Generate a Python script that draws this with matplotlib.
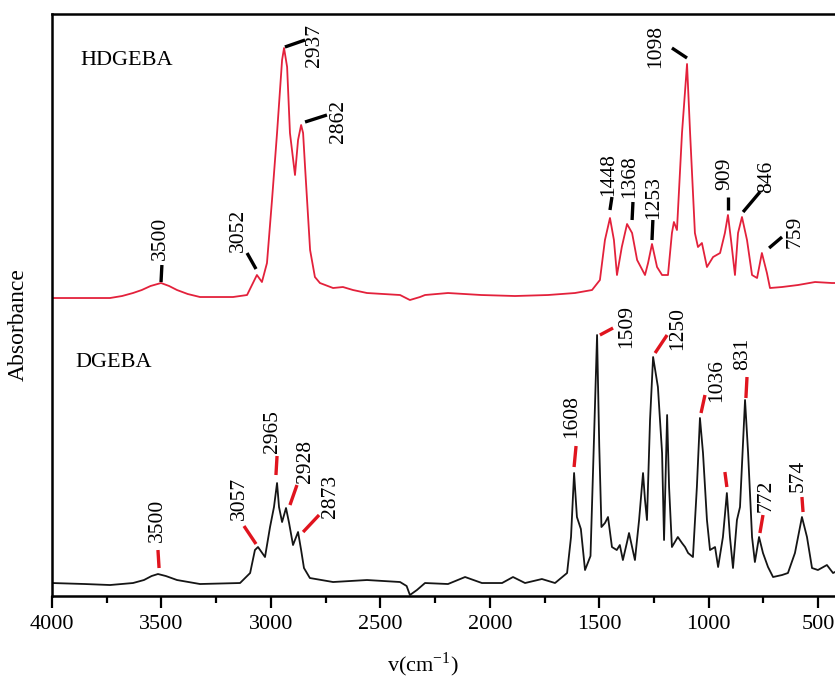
import numpy as np
import matplotlib
matplotlib.use("Agg")
import matplotlib.pyplot as plt
from matplotlib.ticker import MultipleLocator

plt.rcParams['font.family'] = ['Liberation Serif', 'DejaVu Serif']
plt.rcParams['mathtext.fontset'] = 'custom'
plt.rcParams['mathtext.rm'] = 'Liberation Serif'

# HDGEBA spectrum (wavenumber, absorbance in arbitrary units, offset upward)
hd_wn = [4000, 3850, 3735, 3680, 3630, 3590, 3550, 3502, 3465, 3429, 3380, 3324,
         3173, 3109, 3082, 3064,
         3041, 3018, 2995, 2972, 2949, 2940, 2926, 2913, 2890, 2876, 2862, 2853,
         2844, 2821, 2799, 2776, 2716, 2671, 2625, 2561, 2410, 2365, 2319, 2296,
         2191, 2039, 1885, 1734, 1611, 1533, 1497, 1474, 1451, 1433, 1419, 1397,
         1373, 1350, 1327, 1291, 1277, 1259, 1236, 1213, 1186, 1168, 1159, 1145,
         1122, 1099, 1085, 1063, 1049, 1031, 1008, 980, 948, 926, 912, 898, 880,
         866, 848, 825, 802, 779, 757, 734, 720, 665, 592, 514, 437, 423]
hd_abs = [298, 298, 298, 300, 303, 306, 310, 313, 310, 306, 302, 299,
          299, 301, 313, 321,
          314, 333, 396, 463, 536, 548, 529, 463, 421, 456, 471, 463,
          429, 346, 319, 313, 308, 309, 306, 303, 301, 296, 299, 301,
          303, 301, 300, 301, 303, 306, 316, 356, 378, 356, 321, 349,
          372, 363, 336, 321, 333, 352, 329, 321, 321, 363, 374, 366,
          463, 532, 463, 363, 349, 353, 329, 339, 343, 363, 381, 356, 321,
          363, 379, 356, 321, 318, 343, 323, 308, 309, 311, 314, 313, 313]

# DGEBA spectrum
dg_wn = [4000, 3850, 3735, 3630, 3580, 3545, 3516, 3480, 3429, 3324, 3141, 3095,
         3073, 3059,
         3027, 3004, 2986, 2972, 2963, 2949, 2931, 2917, 2899, 2876, 2862, 2849,
         2822, 2716, 2561, 2410, 2380, 2365, 2333, 2296, 2191, 2113, 2036, 1944,
         1894, 1839, 1762, 1702, 1647, 1629, 1615, 1602, 1584, 1565, 1540, 1525,
         1510, 1500, 1490, 1474, 1460, 1442, 1420, 1406, 1392, 1373, 1364, 1337,
         1318, 1300, 1291, 1282, 1268, 1254, 1232, 1213, 1204, 1190, 1181, 1168,
         1141, 1122, 1108, 1094, 1072, 1054, 1040, 1026, 1008, 994, 971, 957, 935,
         917, 903, 889, 871, 857, 834, 820, 802, 789, 770, 752, 729, 706, 665,
         638, 606, 574, 551, 528, 501, 460, 432, 423]
dg_abs = [13, 12, 11, 13, 16, 20, 22, 20, 16, 12, 13, 23,
          46, 49,
          39, 69, 89, 113, 89, 74, 88, 73, 51, 64, 46, 28,
          18, 14, 16, 14, 10, 1, 6, 13, 12, 19, 13, 13,
          19, 13, 17, 13, 23, 59, 123, 79, 67, 26, 40, 150,
          261, 150, 69, 73, 79, 49, 46, 51, 36, 54, 63, 36,
          76, 123, 96, 76, 176, 239, 209, 143, 56, 181, 109, 49,
          59, 53, 49, 43, 39, 109, 178, 143, 76, 46, 49, 29, 59,
          103, 59, 28, 76, 89, 196, 143, 59, 34, 59, 43, 29, 19, 21,
          23, 43, 79, 59, 28, 26, 31, 23, 24]

# peak labels: text, segment start, segment end, text anchor (bottom centre)
hd_peaks = [
    ("3500", (3502, 314), (3498, 331), (3507, 336)),
    ("3052", (3068, 327), (3109, 343), (3150, 344)),
    ("2937", (2936, 549), (2844, 556), (2799, 529)),
    ("2862", (2844, 474), (2744, 481), (2693, 453)),
    ("1448", (1451, 386), (1442, 399), (1455, 400)),
    ("1368", (1350, 376), (1346, 394), (1360, 398)),
    ("1253", (1259, 356), (1255, 376), (1250, 377)),
    ("1098", (1099, 538), (1168, 548), (1241, 528)),
    ("909", (912, 386), (912, 399), (926, 406)),
    ("846", (843, 384), (766, 404), (734, 403)),
    ("759", (724, 348), (665, 359), (606, 348)),
]
dg_peaks = [
    ("3500", (3511, 28), (3516, 46), (3520, 54)),
    ("3057", (3068, 52), (3123, 70), (3146, 76)),
    ("2965", (2977, 121), (2972, 140), (2995, 143)),
    ("2928", (2913, 91), (2881, 111), (2844, 113)),
    ("2873", (2853, 64), (2780, 81), (2730, 78)),
    ("1608", (1615, 129), (1606, 150), (1624, 158)),
    ("1509", (1497, 261), (1437, 268), (1373, 248)),
    ("1250", (1245, 243), (1190, 261), (1140, 246)),
    ("1036", (1035, 183), (1017, 201), (962, 194)),
    ("", (917, 109), (926, 124), (926, 124)),
    ("831", (830, 198), (825, 219), (843, 226)),
    ("772", (766, 63), (752, 81), (738, 84)),
    ("574", (569, 84), (574, 99), (592, 104)),
]

fig = plt.figure(figsize=(8.35, 6.8), dpi=100)
ax = fig.add_axes([0.0623, 0.1235, 0.9377, 0.8559])

red = '#e3213b'
ax.plot(hd_wn, hd_abs, color=red, lw=1.3)
ax.plot(dg_wn, dg_abs, color='#151515', lw=1.3)

for peaks, seg_color in ((hd_peaks, 'black'), (dg_peaks, '#e0141e')):
    for label, p0, p1, pt in peaks:
        ax.plot([p0[0], p1[0]], [p0[1], p1[1]], color=seg_color, lw=2.4,
                solid_capstyle='butt')
        if label:
            ax.text(pt[0], pt[1], label, rotation=90, ha='center', va='bottom',
                    fontsize=15.5)

ax.text(3872, 536, "HDGEBA", fontsize=16, va='center')
ax.text(3895, 234, "DGEBA", fontsize=16, va='center')

ax.set_xlim(4000, 423)
ax.set_ylim(0, 582)
ax.xaxis.set_major_locator(MultipleLocator(500))
ax.xaxis.set_minor_locator(MultipleLocator(250))
ax.tick_params(axis='x', which='major', direction='out', length=8.5, width=1.6,
               labelsize=16, pad=5)
ax.tick_params(axis='x', which='minor', direction='out', length=5, width=1.6)
ax.set_yticks([])

ax.spines['right'].set_visible(False)
for s in ('left', 'top', 'bottom'):
    ax.spines[s].set_linewidth(1.8)

ax.set_xlabel(r"v(cm$^{\mathregular{-1}}$)", fontsize=16)
ax.xaxis.set_label_coords(0.473, -0.094)
ax.set_ylabel("Absorbance", fontsize=17)
ax.yaxis.set_label_coords(-0.03, 0.466)

fig.savefig("out.png", dpi=100)
